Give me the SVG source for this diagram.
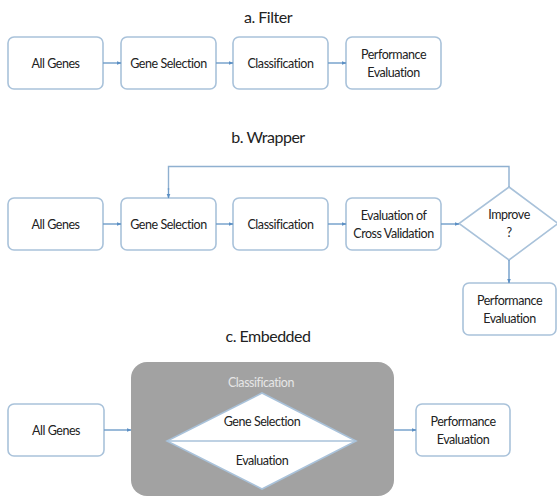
<svg xmlns="http://www.w3.org/2000/svg" width="557" height="497" viewBox="0 0 557 497">
<defs>
<marker id="ah" viewBox="0 0 10 10" refX="9" refY="5" markerWidth="5" markerHeight="5" orient="auto" markerUnits="userSpaceOnUse">
<path d="M0,1 L10,5 L0,9 z" fill="#5b8fc4"/>
</marker>
<style>
.box{fill:#fff;stroke:#a9c2da;stroke-width:1.6}
.dia{fill:#fff;stroke:#a9c2da;stroke-width:1.6}
.t{font-family:Lato,"Open Sans",sans-serif;font-size:12.5px;letter-spacing:-0.45px;fill:#222;text-anchor:middle}
.title{font-family:Lato,"Open Sans",sans-serif;font-size:16px;letter-spacing:-0.5px;fill:#222;text-anchor:middle}
.con{fill:none;stroke:#6f9cc9;stroke-width:1.4;marker-end:url(#ah)}
.line{fill:none;stroke:#8fb0d0;stroke-width:1.4}
</style>
</defs>
<rect width="557" height="497" fill="#fff"/>

<text class="title" x="268" y="23">a. Filter</text>
<text class="title" x="268" y="143">b. Wrapper</text>
<text class="title" x="268" y="342">c. Embedded</text>

<g id="a-allgenes"><rect class="box" x="8" y="37" width="95" height="52" rx="6"/><text class="t" x="55.5" y="67.5">All Genes</text></g>
<g id="a-geneselection"><rect class="box" x="121" y="37" width="95" height="52" rx="6"/><text class="t" x="168.5" y="67.5">Gene Selection</text></g>
<g id="a-classification"><rect class="box" x="233" y="37" width="95" height="52" rx="6"/><text class="t" x="280.5" y="67.5">Classification</text></g>
<g id="a-performance"><rect class="box" x="346" y="37" width="95" height="52" rx="6"/><text class="t" x="393.5" y="59">Performance</text><text class="t" x="393.5" y="77">Evaluation</text></g>

<g id="b-allgenes"><rect class="box" x="8" y="198" width="95" height="52" rx="6"/><text class="t" x="55.5" y="228.5">All Genes</text></g>
<g id="b-geneselection"><rect class="box" x="121" y="198" width="95" height="52" rx="6"/><text class="t" x="168.5" y="228.5">Gene Selection</text></g>
<g id="b-classification"><rect class="box" x="233" y="198" width="95" height="52" rx="6"/><text class="t" x="280.5" y="228.5">Classification</text></g>
<g id="b-evaluation"><rect class="box" x="346" y="198" width="95" height="52" rx="6"/><text class="t" x="393.5" y="220">Evaluation of</text><text class="t" x="393.5" y="238">Cross Validation</text></g>
<g id="b-improve"><polygon class="dia" points="509,187 558,223.5 509,260 459,223.5"/><text class="t" x="509" y="219">Improve</text><text class="t" x="509" y="237">?</text></g>
<g id="b-performance"><rect class="box" x="463" y="283" width="93" height="52" rx="6"/><text class="t" x="509.5" y="305">Performance</text><text class="t" x="509.5" y="323">Evaluation</text></g>

<g id="c-allgenes"><rect class="box" x="8" y="404" width="96" height="52" rx="6"/><text class="t" x="56" y="434.5">All Genes</text></g>
<g id="c-classification"><rect x="131" y="362" width="263" height="134" rx="16" fill="#a2a2a2"/><text class="t" x="261" y="387" style="fill:#e6e6e6">Classification</text>
<polygon points="262,393 356,441 262,489 167,441" fill="#fff" stroke="#a9c2da" stroke-width="1.6"/>
<line x1="167" y1="441" x2="356" y2="441" stroke="#a9c2da" stroke-width="1.6"/>
<text class="t" x="262" y="426">Gene Selection</text><text class="t" x="262" y="465">Evaluation</text></g>
<g id="c-performance"><rect class="box" x="416" y="404" width="94" height="52" rx="6"/><text class="t" x="463" y="426">Performance</text><text class="t" x="463" y="444">Evaluation</text></g>

<g id="connectors">
<line class="con" x1="103" y1="63" x2="121" y2="63"/>
<line class="con" x1="216" y1="63" x2="233" y2="63"/>
<line class="con" x1="328" y1="63" x2="346" y2="63"/>
<line class="con" x1="103" y1="224" x2="121" y2="224"/>
<line class="con" x1="216" y1="224" x2="233" y2="224"/>
<line class="con" x1="328" y1="224" x2="346" y2="224"/>
<line class="con" x1="441" y1="224" x2="459" y2="224"/>
<line class="con" x1="509" y1="260" x2="509" y2="283"/>
<path class="line" d="M509,187 V166.5 H168.5 V190"/>
<line class="con" x1="168.5" y1="188" x2="168.5" y2="198"/>
<line class="con" x1="104" y1="430" x2="131" y2="430"/>
<line class="con" x1="394" y1="430" x2="416" y2="430"/>
</g>
</svg>
